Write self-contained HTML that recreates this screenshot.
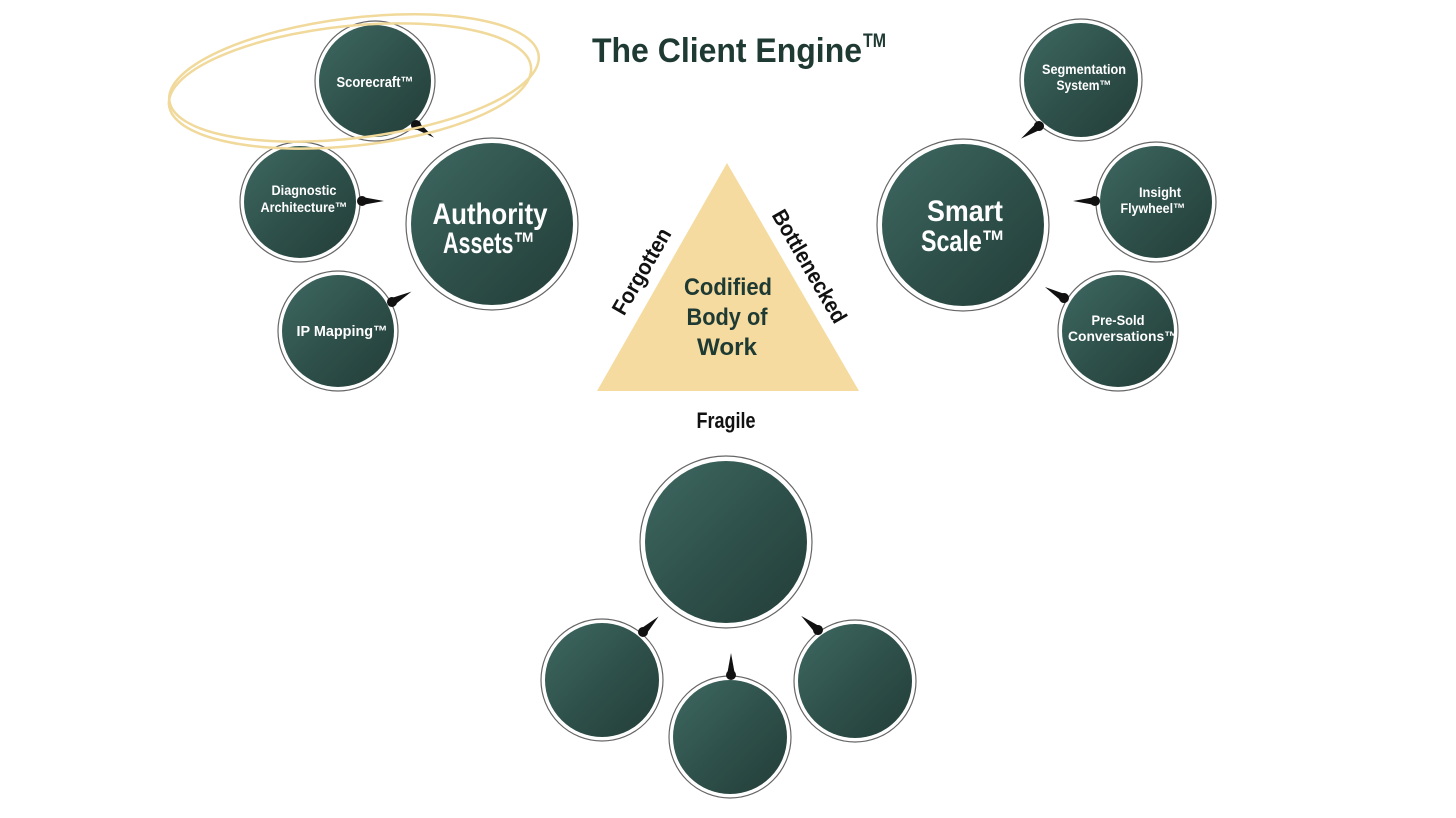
<!DOCTYPE html>
<html><head><meta charset="utf-8"><style>
html,body{margin:0;padding:0;background:#fff;}
svg{display:block;}
text{font-family:"Liberation Sans",sans-serif;font-weight:bold;}
</style></head><body>
<svg width="1456" height="818" viewBox="0 0 1456 818" xmlns="http://www.w3.org/2000/svg">
<defs>
<linearGradient id="g" x1="0" y1="0" x2="1" y2="1">
<stop offset="0" stop-color="#3f6862"/><stop offset="0.5" stop-color="#2f514b"/><stop offset="1" stop-color="#233d38"/>
</linearGradient>
<g id="ptr"><polygon points="0,-4 22,0 0,4" fill="#111"/><circle cx="0" cy="0" r="5" fill="#111"/></g>
</defs>
<g stroke="#666" stroke-width="1.2">
<circle cx="375" cy="81" r="60" fill="#fff"/><circle cx="375" cy="81" r="56" fill="url(#g)" stroke="none"/>
<circle cx="300" cy="202" r="60" fill="#fff"/><circle cx="300" cy="202" r="56" fill="url(#g)" stroke="none"/>
<circle cx="492" cy="224" r="86" fill="#fff"/><circle cx="492" cy="224" r="81" fill="url(#g)" stroke="none"/>
<circle cx="338" cy="331" r="60" fill="#fff"/><circle cx="338" cy="331" r="56" fill="url(#g)" stroke="none"/>
<circle cx="1081" cy="80" r="61" fill="#fff"/><circle cx="1081" cy="80" r="57" fill="url(#g)" stroke="none"/>
<circle cx="963" cy="225" r="86" fill="#fff"/><circle cx="963" cy="225" r="81" fill="url(#g)" stroke="none"/>
<circle cx="1156" cy="202" r="60" fill="#fff"/><circle cx="1156" cy="202" r="56" fill="url(#g)" stroke="none"/>
<circle cx="1118" cy="331" r="60" fill="#fff"/><circle cx="1118" cy="331" r="56" fill="url(#g)" stroke="none"/>
<circle cx="726" cy="542" r="86" fill="#fff"/><circle cx="726" cy="542" r="81" fill="url(#g)" stroke="none"/>
<circle cx="602" cy="680" r="61" fill="#fff"/><circle cx="602" cy="680" r="57" fill="url(#g)" stroke="none"/>
<circle cx="730" cy="737" r="61" fill="#fff"/><circle cx="730" cy="737" r="57" fill="url(#g)" stroke="none"/>
<circle cx="855" cy="681" r="61" fill="#fff"/><circle cx="855" cy="681" r="57" fill="url(#g)" stroke="none"/>
</g>
<use href="#ptr" transform="translate(416,125) rotate(35)"/>
<use href="#ptr" transform="translate(362,201)"/>
<use href="#ptr" transform="translate(392,302) rotate(-28)"/>
<use href="#ptr" transform="translate(1039,126) rotate(145)"/>
<use href="#ptr" transform="translate(1095,201) rotate(180)"/>
<use href="#ptr" transform="translate(1064,298) rotate(-150)"/>
<use href="#ptr" transform="translate(643,632) rotate(-45)"/>
<use href="#ptr" transform="translate(731,675) rotate(-90)"/>
<use href="#ptr" transform="translate(818,630) rotate(-140)"/>
<g fill="none" stroke="#f0d99a" stroke-width="2.5">
<ellipse cx="354" cy="78" rx="186" ry="60" transform="rotate(-7 354 78)"/>
<ellipse cx="350" cy="86" rx="182" ry="60" transform="rotate(-6 350 86)"/>
</g>
<polygon points="727,163 597,391 859,391" fill="#f5dba0"/>
<text x="592" y="62" font-size="34" fill="#1e3a33" textLength="270" lengthAdjust="spacingAndGlyphs">The Client Engine</text>
<text x="863" y="47" font-size="19" fill="#1e3a33" textLength="23" lengthAdjust="spacingAndGlyphs">TM</text>
<g fill="#fff" text-anchor="middle" lengthAdjust="spacingAndGlyphs">
<text x="375" y="87" font-size="15" textLength="77" lengthAdjust="spacingAndGlyphs">Scorecraft™</text>
<text x="304" y="195" font-size="14" textLength="65" lengthAdjust="spacingAndGlyphs">Diagnostic</text>
<text x="304" y="212" font-size="14" textLength="87" lengthAdjust="spacingAndGlyphs">Architecture™</text>
<text x="490" y="224" font-size="30" textLength="115" lengthAdjust="spacingAndGlyphs">Authority</text>
<text x="489" y="253" font-size="30" textLength="92" lengthAdjust="spacingAndGlyphs">Assets™</text>
<text x="342" y="336" font-size="15" textLength="91" lengthAdjust="spacingAndGlyphs">IP Mapping™</text>
<text x="1084" y="74" font-size="14" textLength="84" lengthAdjust="spacingAndGlyphs">Segmentation</text>
<text x="1084" y="90" font-size="14" textLength="55" lengthAdjust="spacingAndGlyphs">System™</text>
<text x="965" y="221" font-size="30" textLength="76" lengthAdjust="spacingAndGlyphs">Smart</text>
<text x="963" y="251" font-size="30" textLength="84" lengthAdjust="spacingAndGlyphs">Scale™</text>
<text x="1160" y="197" font-size="14" textLength="42" lengthAdjust="spacingAndGlyphs">Insight</text>
<text x="1153" y="213" font-size="14" textLength="65" lengthAdjust="spacingAndGlyphs">Flywheel™</text>
<text x="1118" y="325" font-size="14" textLength="53" lengthAdjust="spacingAndGlyphs">Pre-Sold</text>
<text x="1123" y="341" font-size="14" textLength="110" lengthAdjust="spacingAndGlyphs">Conversations™</text>
</g>
<g fill="#1e3a33" text-anchor="middle" font-size="24">
<text x="728" y="295" textLength="88" lengthAdjust="spacingAndGlyphs">Codified</text>
<text x="727" y="325" textLength="81" lengthAdjust="spacingAndGlyphs">Body of</text>
<text x="727" y="355" textLength="60" lengthAdjust="spacingAndGlyphs">Work</text>
</g>
<g fill="#111" text-anchor="middle" font-size="22" font-weight="normal">
<text transform="translate(648,275) rotate(-60)" textLength="96" lengthAdjust="spacingAndGlyphs">Forgotten</text>
<text transform="translate(803,270) rotate(60)" textLength="127" lengthAdjust="spacingAndGlyphs">Bottlenecked</text>
<text x="726" y="428" textLength="59" lengthAdjust="spacingAndGlyphs">Fragile</text>
</g>
</svg>
</body></html>
